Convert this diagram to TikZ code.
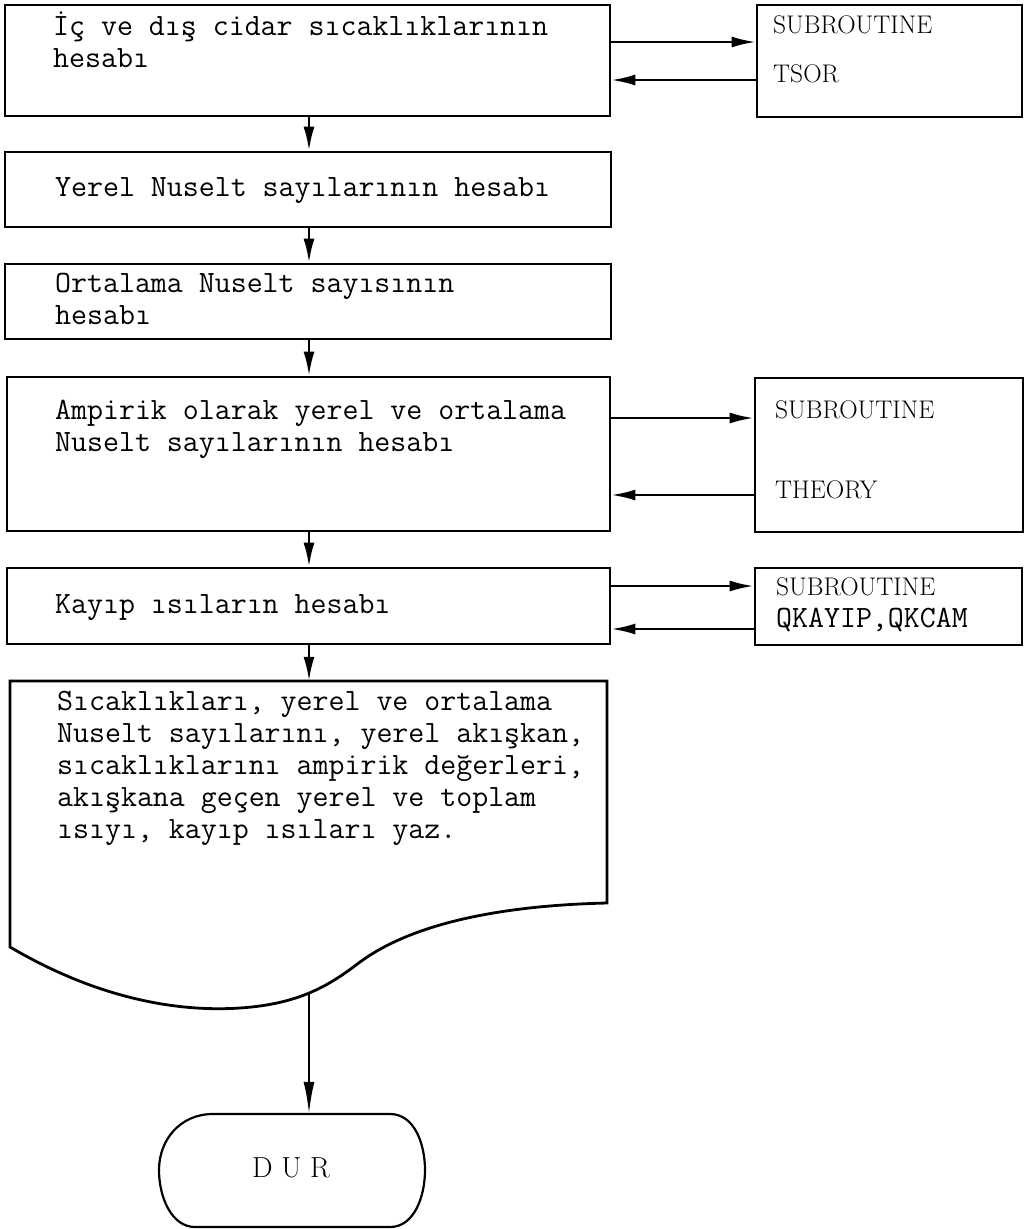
\documentclass[tikz,border=0pt]{standalone}
\usepackage{fontspec}
\setmonofont{Latin Modern Mono}
\usetikzlibrary{arrows.meta,fit}
\tikzset{
  boxline/.style={draw, line width=2.8pt},
  procbox/.style={boxline, inner sep=0pt, fit={#1}},
  ghost/.style={inner sep=0pt, fit={#1}},
  mono/.style={inner sep=0pt, anchor=base west, font=\fontsize{31}{32}\selectfont\ttfamily},
  subtxt/.style={inner sep=0pt, anchor=base west, font=\fontsize{25.5}{27}\selectfont\rmfamily},
  conn/.style={line width=2.4pt, -{Latex[length=24pt,width=11pt]}},
  termline/.style={draw, line width=2.2pt},
}
\newcommand{\lines}[1]{\begin{tabular}[t]{@{}l@{}}#1\end{tabular}}
\begin{document}
\begin{tikzpicture}[x=1pt,y=-1pt]
\useasboundingbox (0,0) rectangle (1027,1229);

% main column boxes
\node[procbox={(5,5)(610,116)}] (b1) {};
\node[procbox={(5,152)(611,227)}] (b2) {};
\node[procbox={(5,264)(611,339)}] (b3) {};
\node[procbox={(7,377)(610,531)}] (b4) {};
\node[procbox={(7,568)(610,644)}] (b5) {};

% subroutine boxes
\node[procbox={(757,5)(1022,117)}] (t1) {};
\node[procbox={(755,378)(1023,532)}] (t2) {};
\node[procbox={(755,568)(1022,645)}] (t3) {};

% document shape
\draw[boxline] (10,947) -- (10,681) -- (607,681) -- (607,903)
  .. controls (520,905) and (420,918) .. (360,962)
  .. controls (330,985) and (300,1004) .. (240,1008)
  .. controls (180,1012) and (100,1000) .. (10,947) -- cycle;
\node[ghost={(10,681)(607,1008)}] (doc) {};
\coordinate (docb) at (309,993);

% terminal
\draw[termline] (213,1114) -- (390,1114)
  .. controls (415,1114) and (425,1145) .. (425,1170)
  .. controls (425,1197) and (414,1227) .. (390,1227)
  -- (195,1227)
  .. controls (172,1227) and (159,1198) .. (159,1170)
  .. controls (159,1140) and (180,1114) .. (213,1114) -- cycle;
\node[ghost={(159,1114)(425,1227)}] (dur) {};
\node[inner sep=0pt, font=\fontsize{29}{31}\selectfont\rmfamily] (durtxt) at (291,1168) {D U R};

% texts
\node[mono] (x1) at (53,35) {\lines{İç ve dış cidar sıcaklıklarının\\ hesabı}};
\node[mono] (x2) at (55,196) {Yerel Nuselt sayılarının hesabı};
\node[mono] (x3) at (55,292) {\lines{Ortalama Nuselt sayısının\\ hesabı}};
\node[mono] (x4) at (55,419) {\lines{Ampirik olarak yerel ve ortalama\\ Nuselt sayılarının hesabı}};
\node[mono] (x5) at (55,613) {Kayıp ısıların hesabı};
\node[mono] (x6) at (57,710) {\lines{Sıcaklıkları, yerel ve ortalama\\ Nuselt sayılarını, yerel akışkan,\\ sıcaklıklarını ampirik değerleri,\\ akışkana geçen yerel ve toplam\\ ısıyı, kayıp ısıları yaz.}};

\node[subtxt] (s1a) at (773,33) {SUBROUTINE};
\node[subtxt] (s1b) at (773,82) {TSOR};
\node[subtxt] (s2a) at (775,418) {SUBROUTINE};
\node[subtxt] (s2b) at (775,498) {THEORY};
\node[subtxt] (s3a) at (776,595) {SUBROUTINE};
\node[mono] (s3b) at (776,627) {QKAYIP,QKCAM};

% vertical connectors
\coordinate (ax) at (309,0);
\draw[conn] (ax |- b1.south) -- (ax |- b2.north);
\draw[conn] (ax |- b2.south) -- (ax |- b3.north);
\draw[conn] (ax |- b3.south) -- (ax |- b4.north);
\draw[conn] (ax |- b4.south) -- (ax |- b5.north);
\draw[conn] (ax |- b5.south) -- (ax |- doc.north);
\draw[conn, -{Latex[length=32pt,width=11pt]}] (docb) -- (ax |- dur.north);

% horizontal connectors
\coordinate (h1) at (0,42);
\coordinate (h2) at (0,80);
\coordinate (h3) at (0,418);
\coordinate (h4) at (0,495);
\coordinate (h5) at (0,586);
\coordinate (h6) at (0,629);
\draw[conn] (b1.east |- h1) -- (t1.west |- h1);
\draw[conn] (t1.west |- h2) -- (b1.east |- h2);
\draw[conn] (b4.east |- h3) -- (t2.west |- h3);
\draw[conn] (t2.west |- h4) -- (b4.east |- h4);
\draw[conn] (b5.east |- h5) -- (t3.west |- h5);
\draw[conn] (t3.west |- h6) -- (b5.east |- h6);
\end{tikzpicture}
\end{document}
